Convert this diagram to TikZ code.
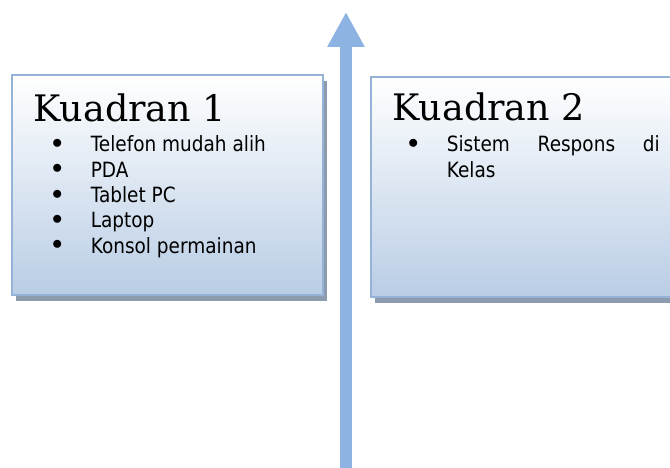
\documentclass[tikz,border=0pt]{standalone}
\usepackage{fontspec}
\usepackage{tikz}
\usepackage{xcolor}
\usetikzlibrary{arrows.meta,shadows}
\newfontfamily\titlefont{DejaVu Serif}
\newfontfamily\listfont[FakeStretch=0.88]{DejaVu Sans}
\definecolor{boxline}{HTML}{95B3D7}
\definecolor{boxfill}{HTML}{B9CDE5}
\definecolor{boxshadow}{HTML}{8D9BAF}
\definecolor{axisblue}{HTML}{8DB3E2}
\newcommand{\itm}[1]{\makebox[33.5pt][l]{\makebox[0pt]{\raisebox{3.3pt}{$\bullet$}}}#1}
\tikzset{
	quad/.style={draw=boxline, line width=2pt, top color=white, bottom color=boxfill,
		minimum width=311pt, minimum height=220pt, anchor=north west, inner sep=0pt,
		drop shadow={shadow xshift=4pt, shadow yshift=-6pt, fill=boxshadow, opacity=1}},
	title/.style={anchor=base west, inner sep=0pt, font=\titlefont\fontsize{36.5}{42}\selectfont},
	items/.style={anchor=base west, inner sep=0pt, font=\listfont\fontsize{21}{25.3}\selectfont}
}
\begin{document}
\begin{tikzpicture}[x=1pt, y=-1pt, >=stealth, semithick]
		\useasboundingbox (0,0) rectangle (670,468);
		\clip (0,0) rectangle (670,468);
		\node [quad] (1) at (11,74) {};
		\node [quad] (2) at (370,76) {};
		\node [title] (t1) at (33,122) {Kuadran 1};
		\node [title] (t2) at (392,121) {Kuadran 2};
		\node [items] (l1) at (57,152) {\begin{tabular}[t]{@{}l@{}}
			\itm{Telefon mudah alih}\\
			\itm{PDA}\\
			\itm{Tablet PC}\\
			\itm{Laptop}\\
			\itm{Konsol permainan}
		\end{tabular}};
		\node [items] (l2) at (413,152) {\begin{tabular}[t]{@{}l@{}}
			\itm{\hbox to 213pt{Sistem\hfill Respons\hfill di}}\\
			\hspace*{33.5pt}Kelas
		\end{tabular}};
		\coordinate (a) at (346,468);
		\coordinate (b) at (346,12);
		\draw [draw=axisblue, line width=12pt, -{Triangle[width=35pt, length=35pt]}] (a) to (b);
    \end{tikzpicture}
\end{document}
